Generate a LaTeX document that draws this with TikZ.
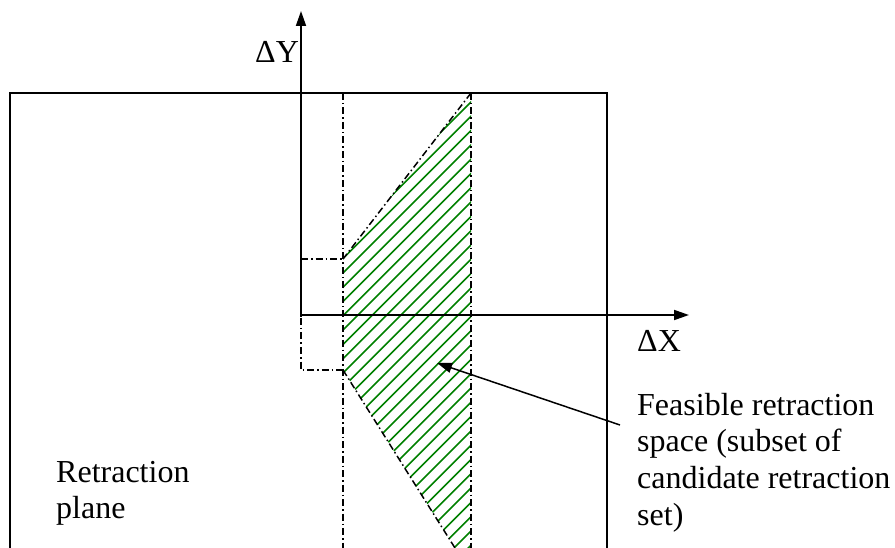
\documentclass[tikz,border=0pt]{standalone}
\usepackage{fontspec}
\setmainfont{Liberation Serif}
\usetikzlibrary{arrows.meta}
\definecolor{hatchgreen}{RGB}{0,128,0}
\tikzset{
  axisline/.style={line width=1.8pt},
  frameline/.style={line width=1.5pt},
  dashdot/.style={line width=1.5pt, dash pattern=on 7pt off 3pt on 1.5pt off 3pt},
  hatchline/.style={line width=1.6pt, hatchgreen},
  lbl/.style={inner sep=0pt, font=\fontsize{32}{36.7}\selectfont, align=left},
  tip/.style={-{Triangle[length=15pt,width=10pt]}}
}
\begin{document}
\begin{tikzpicture}[x=1pt,y=-1pt]
\useasboundingbox (0,0) rectangle (895,548);
% key points
\coordinate (o) at (301,315);
\coordinate (ytop) at (301,11);
\coordinate (ybot) at (301,317);
\coordinate (xend) at (689,315);
\coordinate (a) at (343,259);
\coordinate (b) at (471,93);
\coordinate (c) at (471,548);
\coordinate (d) at (455,548);
\coordinate (e) at (343,370);
% hatch
\begin{scope}
  \clip (a) -- (b) -- (c) -- (d) -- (e) -- cycle;
  \foreach \k in {0,...,50} {
    \pgfmathsetmacro{\cc}{430+\k*14.3}
    \draw[hatchline] (330,\cc-330) -- (480,\cc-480);
  }
\end{scope}
% frame
\draw[frameline] (607,548) -- (607,93) -- (10,93) -- (10,548);
% dash-dot lines
\draw[dashdot] (343,93) -- (343,548);
\draw[dashdot] (471,93) -- (471,548);
\draw[dashdot] (b) -- (a);
\draw[dashdot] (e) -- (d);
\draw[dashdot] (301,259) -- (a);
\draw[dashdot] (301,318) -- (301,370) -- (e);
% axes
\draw[axisline, tip] (ybot) -- (ytop);
\draw[axisline, tip] (o) -- (xend);
% labels
\node[lbl, anchor=base west] (dy) at (255,63) {ΔY};
\node[lbl, anchor=base west] (dx) at (637,352) {ΔX};
\node[lbl, anchor=base west] (feas) at (637,525.1) {Feasible retraction\\space (subset of\\candidate retraction\\set)};
\node[lbl, anchor=base west] (plane) at (56,518.7) {Retraction\\plane};
% pointer
\coordinate (ptrstart) at (620,425);
\coordinate (ptrtip) at (437,363);
\draw[line width=1.5pt, tip] (ptrstart) -- (ptrtip);
\end{tikzpicture}
\end{document}
